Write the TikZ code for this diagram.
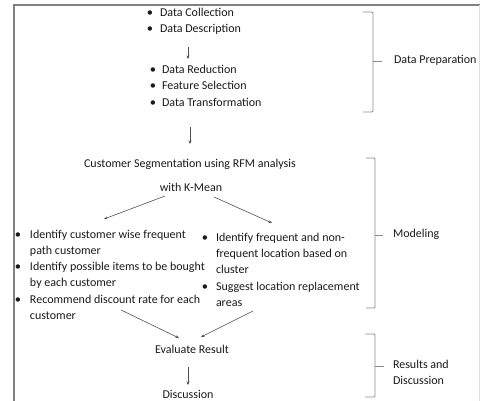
\documentclass[tikz,border=0pt]{standalone}
\usepackage{fontspec}
\setmainfont{Carlito}
\usetikzlibrary{arrows.meta}
\definecolor{txt}{HTML}{1A1A1A}
\definecolor{brk}{HTML}{8A8A8A}
\definecolor{arr}{HTML}{505050}
\begin{document}
\begin{tikzpicture}[x=1pt,y=-1pt,
  every node/.style={inner sep=0pt,outer sep=0pt,text=txt,font=\fontsize{12}{16}\selectfont},
  ln/.style={anchor=mid west},
  ctr/.style={anchor=mid},
  bul/.style={anchor=mid,font=\fontsize{12.5}{16}\selectfont},
  conn/.style={draw=arr,line width=0.6pt,-{Stealth[length=3.5pt,width=3pt]}},
  brace/.style={draw=brk,line width=0.8pt,rounded corners=1pt},
  frame/.style={draw=gray,line width=1.6pt}]
\useasboundingbox (0,0) rectangle (480,401);
% frame
\draw[frame] (14,401) -- (14,5) -- (480,5);
\draw[draw=gray!25,line width=1pt] (479,5) -- (479,401);

% data preparation bullets
\node[bul] (b1) at (150,14) {•};
\node[ln] (t1) at (160,14) {Data Collection};
\node[bul] (b2) at (150,30) {•};
\node[ln] (t2) at (160,30) {Data Description};
\node[bul] (b3) at (153,71) {•};
\node[ln] (t3) at (162,71) {Data Reduction};
\node[bul] (b4) at (153,87) {•};
\node[ln] (t4) at (162,87) {Feature Selection};
\node[bul] (b5) at (153,104) {•};
\node[ln] (t5) at (162,104) {Data Transformation};

% modeling
\node[ctr] (seg) at (190,165) {Customer Segmentation using RFM analysis};
\node[ctr] (km) at (191,189) {with K-Mean};

\node[bul] (lb1) at (18,236) {•};
\node[ln] (l1a) at (30,236) {Identify customer wise frequent};
\node[ln] (l1b) at (30,252) {path customer};
\node[bul] (lb2) at (18,268) {•};
\node[ln] (l2a) at (30,268) {Identify possible items to be bought};
\node[ln] (l2b) at (30,284) {by each customer};
\node[bul] (lb3) at (18,301) {•};
\node[ln] (l3a) at (30,301) {Recommend discount rate for each};
\node[ln] (l3b) at (30,317) {customer};

\node[bul] (rb1) at (205,239) {•};
\node[ln] (r1a) at (216,239) {Identify frequent and non-};
\node[ln] (r1b) at (216,255) {frequent location based on};
\node[ln] (r1c) at (216,271) {cluster};
\node[bul] (rb2) at (205,288) {•};
\node[ln] (r2a) at (216,288) {Suggest location replacement};
\node[ln] (r2b) at (216,304) {areas};

% results
\node[ctr] (ev) at (192,351) {Evaluate Result};
\node[ctr] (disc) at (188,396) {Discussion};

% labels
\node[ln] (lp) at (394,61) {Data Preparation};
\node[ln] (lm) at (393,235) {Modeling};
\node[ln] (lr1) at (393,366) {Results and};
\node[ln] (lr2) at (393,382) {Discussion};

% arrow endpoints
\coordinate (a1s) at (188,47);
\coordinate (a1e) at (188,59);
\coordinate (a2s) at (190,127);
\coordinate (a2e) at (190,144);
\coordinate (a3s) at (165,196);
\coordinate (a3e) at (104,219);
\coordinate (a4s) at (214,197);
\coordinate (a4e) at (272,223);
\coordinate (a5s) at (121,310);
\coordinate (a5e) at (179,338);
\coordinate (a6s) at (253,311);
\coordinate (a6e) at (201,337);
\coordinate (a7s) at (188,367);
\coordinate (a7e) at (188,385);

\draw[conn] (a1s) -- (a1e);
\draw[conn] (a2s) -- (a2e);
\draw[conn] (a3s) -- (a3e);
\draw[conn] (a4s) -- (a4e);
\draw[conn] (a5s) -- (a5e);
\draw[conn] (a6s) -- (a6e);
\draw[conn] (a7s) -- (a7e);

% brackets
\draw[brace] (363,12) -- (373,12) -- (373,112) -- (363,112);
\draw[brk,line width=0.8pt] (373,61) -- (382,61);
\draw[brace] (366,158) -- (375,158) -- (375,308) -- (366,308);
\draw[brk,line width=0.8pt] (375,235) -- (383,235);
\draw[brace] (365,334) -- (375,334) -- (375,397) -- (365,397);
\draw[brk,line width=0.8pt] (375,366) -- (384,366);
\end{tikzpicture}
\end{document}
